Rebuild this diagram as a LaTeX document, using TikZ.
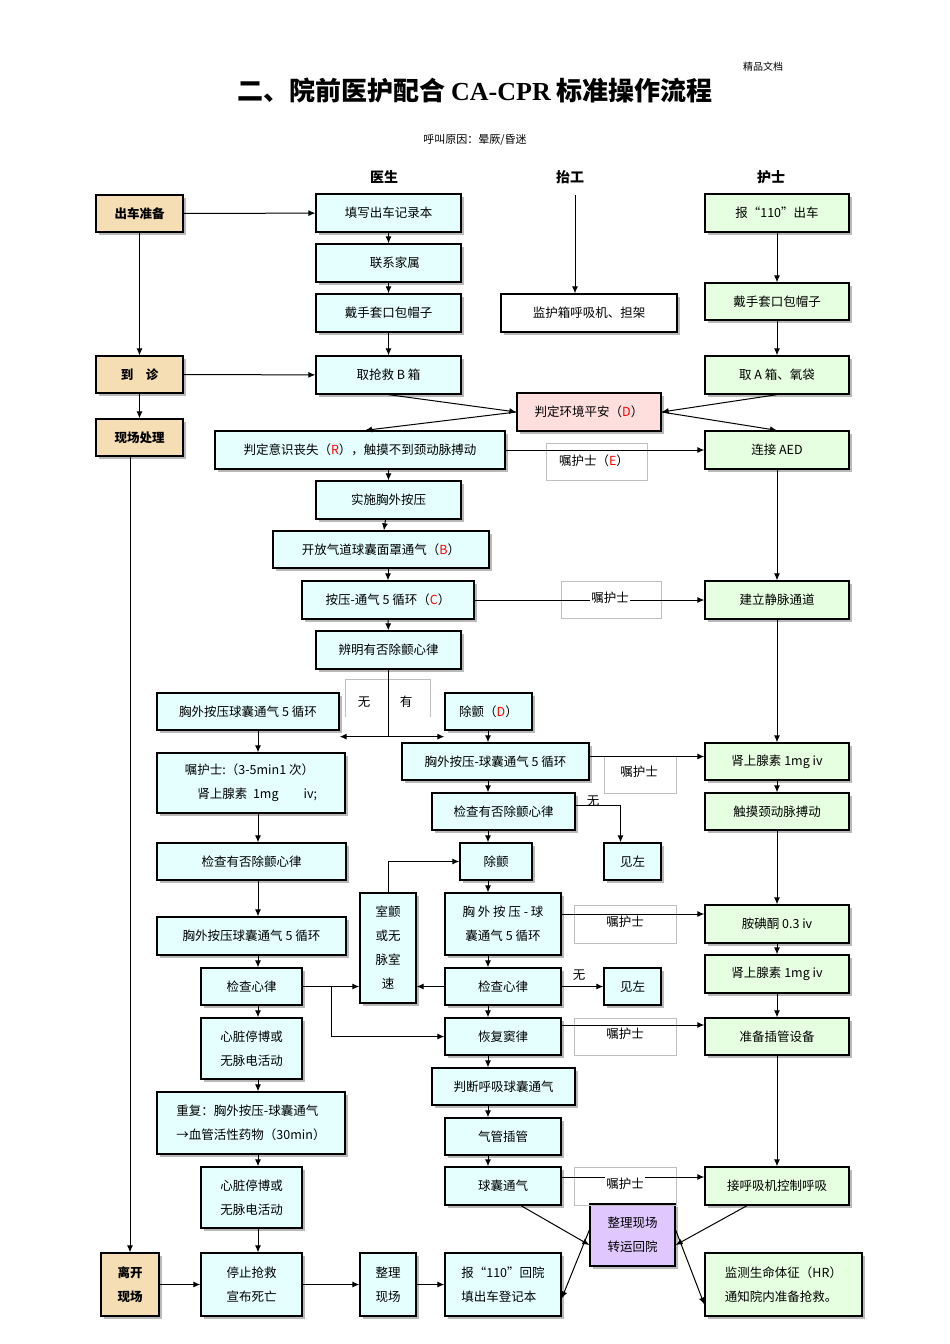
\documentclass[tikz,border=0pt]{standalone}
\usepackage{fontspec}
\setmainfont{Noto Sans CJK SC}
\newfontfamily\latf{Liberation Serif}
\usetikzlibrary{shadows,arrows.meta}
\definecolor{cyanf}{HTML}{E5FFFF}
\definecolor{greenf}{HTML}{E6FFE0}
\definecolor{tanf}{HTML}{F5DEB3}
\definecolor{pinkf}{HTML}{FFDEDE}
\definecolor{purf}{HTML}{E0C8FF}
\tikzset{
 bx/.style={draw, line width=1.3pt, inner sep=2pt, align=center, font=\fontsize{12.5}{24}\selectfont,
   drop shadow={shadow xshift=3pt, shadow yshift=-3pt, fill=gray!55, opacity=1}},
 cb/.style={bx, fill=cyanf},
 gb/.style={bx, fill=greenf},
 tb/.style={bx, fill=tanf, font=\fontsize{12.5}{24}\selectfont\bfseries},
 lab/.style={fill=white, inner sep=1pt, font=\fontsize{12.5}{15}\selectfont},
 lbox/.style={draw=gray!50, line width=0.5pt},
 arr/.style={-{Latex[length=7pt,width=6pt]}, line width=1pt},
 ln/.style={line width=1pt},
 hd/.style={font=\fontsize{14}{16}\selectfont\bfseries}
}
\newcommand{\R}[1]{\textcolor{red}{#1}}
\begin{document}
\begin{tikzpicture}[x=1pt,y=-1pt]
\useasboundingbox (0,0) rectangle (950,1344);
% titles
\node[font=\fontsize{10}{12}\selectfont] (jp) at (763,67) {精品文档};
\node[font=\fontsize{26}{30}\selectfont\bfseries] (title) at (475,91) {二、院前医护配合 {\latf\bfseries CA-CPR} 标准操作流程};
\node[font=\fontsize{11}{13}\selectfont] (reason) at (475,140) {呼叫原因：晕厥/昏迷};
\node[hd] (hdoc) at (384,177) {医生};
\node[hd] (hpor) at (570,177) {抬工};
\node[hd] (hnur) at (771,177) {护士};
% left column
\node[tb,minimum width=87pt,minimum height=37pt] (t1) at (139.5,213.5) {出车准备};
\node[tb,minimum width=87pt,minimum height=37pt] (t2) at (139.5,374.5) {到\quad 诊};
\node[tb,minimum width=87pt,minimum height=37pt] (t3) at (139.5,437.5) {现场处理};
\node[tb,minimum width=58pt,minimum height=63pt] (t4) at (130,1284.5) {离开\\现场};
% doctor column
\node[cb,minimum width=145pt,minimum height=38pt] (d1) at (388.5,213) {填写出车记录本};
\node[cb,minimum width=145pt,minimum height=38pt] (d2) at (388.5,263) {\quad 联系家属};
\node[cb,minimum width=145pt,minimum height=38pt] (d3) at (388.5,313) {戴手套口包帽子};
\node[cb,minimum width=145pt,minimum height=38pt] (d4) at (388.5,375) {取抢救 B 箱};
\node[cb,minimum width=290pt,minimum height=38pt] (d5) at (360,450) {判定意识丧失（\R{R}），触摸不到颈动脉搏动};
\node[cb,minimum width=145pt,minimum height=38pt] (d6) at (388.5,500) {实施胸外按压};
\node[cb,minimum width=216pt,minimum height=37pt] (d7) at (381,549.5) {开放气道球囊面罩通气（\R{B}）};
\node[cb,minimum width=172pt,minimum height=38pt] (d8) at (388,600) {按压-通气 5 循环（\R{C}）};
\node[cb,minimum width=145pt,minimum height=38pt] (d9) at (388.5,650) {辨明有否除颤心律};
% left branch
\node[cb,minimum width=182pt,minimum height=37pt] (l1) at (248,711.5) {胸外按压球囊通气 5 循环};
\node[cb,minimum width=188pt,minimum height=60pt,align=left] (l2) at (251,783) {嘱护士:（3-5min1 次）\\\quad 肾上腺素\ \ 1mg\quad\quad iv;};
\node[cb,minimum width=189pt,minimum height=37pt] (l3) at (251.5,861.5) {检查有否除颤心律};
\node[cb,minimum width=189pt,minimum height=38pt] (l4) at (251.5,936) {胸外按压球囊通气 5 循环};
\node[cb,minimum width=101pt,minimum height=37pt] (l5) at (251.5,986.5) {检查心律};
\node[cb,minimum width=101pt,minimum height=61pt] (l6) at (251.5,1048.5) {心脏停博或\\无脉电活动};
\node[cb,minimum width=188pt,minimum height=62pt,align=left] (l7) at (251,1123) {重复：胸外按压-球囊通气\\→血管活性药物（30min）};
\node[cb,minimum width=101pt,minimum height=61pt] (l8) at (251.5,1197.5) {心脏停博或\\无脉电活动};
\node[cb,minimum width=101pt,minimum height=63pt] (l9) at (251.5,1284.5) {停止抢救\\宣布死亡};
\node[cb,minimum width=56pt,minimum height=63pt] (b1) at (388,1284.5) {整理\\现场};
\node[cb,minimum width=116pt,minimum height=63pt,align=left] (b2) at (503,1284.5) {报“110”回院\\填出车登记本};
% middle branch
\node[cb,minimum width=87pt,minimum height=37pt] (m1) at (488.5,711.5) {除颤（\R{D}）};
\node[cb,minimum width=187pt,minimum height=37pt] (m2) at (495.5,761.5) {胸外按压-球囊通气 5 循环};
\node[cb,minimum width=143pt,minimum height=37pt] (m3) at (503.5,811.5) {检查有否除颤心律};
\node[cb,minimum width=57pt,minimum height=37pt] (jz1) at (632.5,861.5) {见左};
\node[cb,minimum width=72pt,minimum height=37pt] (m4) at (496,861.5) {除颤};
\node[cb,minimum width=56pt,minimum height=110pt] (vf) at (388,948) {室颤\\或无\\脉室\\速};
\node[cb,minimum width=116pt,minimum height=62pt] (m5) at (503,924) {胸 外 按 压 - 球\\囊通气 5 循环};
\node[cb,minimum width=116pt,minimum height=37pt] (m6) at (503,986.5) {检查心律};
\node[cb,minimum width=57pt,minimum height=37pt] (jz2) at (632.5,986.5) {见左};
\node[cb,minimum width=116pt,minimum height=37pt] (m7) at (503,1036.5) {恢复窦律};
\node[cb,minimum width=143pt,minimum height=37pt] (m8) at (503.5,1086.5) {判断呼吸球囊通气};
\node[cb,minimum width=116pt,minimum height=37pt] (m9) at (503,1136.5) {气管插管};
\node[cb,minimum width=116pt,minimum height=38pt] (m10) at (503,1186) {球囊通气};
\node[bx,fill=purf,minimum width=85pt,minimum height=62pt] (pu) at (632.5,1235) {整理现场\\转运回院};
% porter
\node[bx,fill=white,minimum width=176pt,minimum height=38pt] (p1) at (589,313) {监护箱呼吸机、担架};
\node[bx,fill=pinkf,minimum width=144pt,minimum height=38pt] (pk) at (589,412) {判定环境平安（\R{D}）};
% nurse
\node[gb,minimum width=144pt,minimum height=38pt] (n1) at (777,213) {报“110”出车};
\node[gb,minimum width=144pt,minimum height=37pt] (n2) at (777,301.5) {戴手套口包帽子};
\node[gb,minimum width=144pt,minimum height=38pt] (n3) at (777,375) {取 A 箱、氧袋};
\node[gb,minimum width=144pt,minimum height=38pt] (n4) at (777,450) {连接 AED};
\node[gb,minimum width=144pt,minimum height=38pt] (n5) at (777,600) {建立静脉通道};
\node[gb,minimum width=144pt,minimum height=37pt] (n6) at (777,761.5) {肾上腺素 1mg iv};
\node[gb,minimum width=144pt,minimum height=37pt] (n7) at (777,811.5) {触摸颈动脉搏动};
\node[gb,minimum width=144pt,minimum height=38pt] (n8) at (777,924) {胺碘酮 0.3 iv};
\node[gb,minimum width=144pt,minimum height=38pt] (n9) at (777,974) {肾上腺素 1mg iv};
\node[gb,minimum width=144pt,minimum height=37pt] (n10) at (777,1036.5) {准备插管设备};
\node[gb,minimum width=144pt,minimum height=38pt] (n11) at (777,1186) {接呼吸机控制呼吸};
\node[gb,minimum width=157pt,minimum height=63pt,align=left] (n12) at (783.5,1284.5) {监测生命体征（HR）\\通知院内准备抢救。};
% label boxes
\draw[lbox] (546,443) rectangle (647,480);
\draw[lbox] (561,581) rectangle (661,618);
\draw[lbox] (345,717) -- (345,679) -- (430,679) -- (430,717);
\draw[lbox] (604,756) rectangle (676,793);
\draw[lbox] (574,905) rectangle (676,943);
\draw[lbox] (574,1018) rectangle (676,1055);
\draw[lbox] (574,1167) rectangle (676,1205);
% left column arrows
\draw[arr] (t1) -- (d1);
\draw[arr] (t1) -- (t2);
\draw[arr] (t2) -- (d4);
\draw[arr] (t2) -- (t3);
\draw[arr] (t3.south -| t4.north) -- (t4.north);
% doctor chain
\draw[arr] (d1) -- (d2);
\draw[arr] (d2) -- (d3);
\draw[arr] (d3) -- (d4);
\draw[arr] (d4.south) -- (pk.west);
\draw[arr] (pk.west) -- ([xshift=5pt]d5.north);
\draw[arr] (d5.south -| d6.north) -- (d6.north);
\draw[arr] (d6) -- (d7);
\draw[arr] (d7.south -| d8.north) -- (d8.north);
\draw[arr] (d8) -- (d9);
\draw[ln] (d9.south) -- ++(0,67) coordinate (sp);
\draw[arr] (sp) -- (sp -| l1.east);
\draw[arr] (sp) -- (sp -| m1.west);
% porter / nurse
\draw[arr] ([xshift=5pt]hpor.south) ++(0,8) -- ([xshift=-14pt]p1.north);
\draw[arr] (n1) -- (n2);
\draw[arr] (n2) -- (n3);
\draw[arr] (n3.south) -- (pk.east);
\draw[arr] (pk.east) -- (n4.north);
\draw[arr] (n4) -- (n5);
\draw[arr] (n5) -- (n6);
\draw[arr] (n6) -- (n7);
\draw[arr] (n7) -- (n8);
\draw[arr] (n8) -- (n9);
\draw[arr] (n9) -- (n10);
\draw[arr] (n10) -- (n11);
% horizontal 嘱护士 lines
\draw[arr] (d5.east) -- (n4.west);
\draw[arr] (d8.east) -- (n5.west);
\draw[arr] ([yshift=5pt]m2.east) -- ([yshift=5pt]n6.west);
\draw[arr] (m5.east |- 0,914) -- (n8.west |- 0,914);
\draw[arr] (m7.east |- 0,1025) -- (n10.west |- 0,1025);
\draw[arr] (m10.east |- 0,1177) -- (n11.west |- 0,1177);
% left branch chain
\draw[arr] (l1.south -| 258,0) -- (l2.north -| 258,0);
\draw[arr] (l2.south -| 258,0) -- (l3.north -| 258,0);
\draw[arr] (l3.south -| 258,0) -- (l4.north -| 258,0);
\draw[arr] (l4.south -| 258,0) -- (l5.north -| 258,0);
\draw[arr] (l5.south -| 258,0) -- (l6.north -| 258,0);
\draw[arr] (l6.south -| 258,0) -- (l7.north -| 258,0);
\draw[arr] (l7.south -| 258,0) -- (l8.north -| 258,0);
\draw[arr] (l8.south -| 258,0) -- (l9.north -| 258,0);
\draw[arr] (t4) -- (l9);
\draw[arr] (l9) -- (b1);
\draw[arr] (b1) -- (b2);
\draw[arr] (l5.east) -- (vf.west |- l5.east);
\draw[arr] (l5.east -| 331,0) |- (m7.west);
% middle chain
\draw[arr] (m1.south -| 488,0) -- (m2.north -| 488,0);
\draw[arr] (m2.south -| 488,0) -- (m3.north -| 488,0);
\draw[arr] (m3.south -| 488,0) -- (m4.north -| 488,0);
\draw[arr] (m4.south -| 488,0) -- (m5.north -| 488,0);
\draw[arr] (m5.south -| 488,0) -- (m6.north -| 488,0);
\draw[arr] (m6.south -| 488,0) -- (m7.north -| 488,0);
\draw[arr] (m7.south -| 488,0) -- (m8.north -| 488,0);
\draw[arr] (m8.south -| 488,0) -- (m9.north -| 488,0);
\draw[arr] (m9.south -| 488,0) -- (m10.north -| 488,0);
\draw[arr] ([yshift=6pt]m3.east) -| ([xshift=-12pt]jz1.north);
\draw[arr] (vf.north) |- (m4.west);
\draw[arr] (m6.west) -- (vf.east |- m6.west);
\draw[arr] (m6.east) -- (jz2.west);
\draw[arr] ([xshift=18pt]m10.south) -- ([yshift=-10pt]pu.west);
\draw[arr] ([xshift=-30pt]n11.south) -- ([yshift=-10pt]pu.east);
\draw[arr] ([yshift=5pt]pu.west) -- ([yshift=-14pt]b2.east);
\draw[arr] ([yshift=5pt]pu.east) -- ([yshift=-20pt]n12.west);
% labels on lines
\node[lab] (e1) at (594,461) {嘱护士（\R{E}）};
\node[lab] (e2) at (610,598) {嘱护士};
\node[lab] (e3) at (639,772) {嘱护士};
\node[lab] (e4) at (625,922) {嘱护士};
\node[lab] (e5) at (625,1034) {嘱护士};
\node[lab] (e6) at (625,1184) {嘱护士};
\node[lab,fill=none] (w1) at (364,702) {无};
\node[lab,fill=none] (y1) at (406,702) {有};
\node[lab,fill=none] (w2) at (593,801) {无};
\node[lab,fill=none] (w3) at (579,975) {无};
\end{tikzpicture}
\end{document}
